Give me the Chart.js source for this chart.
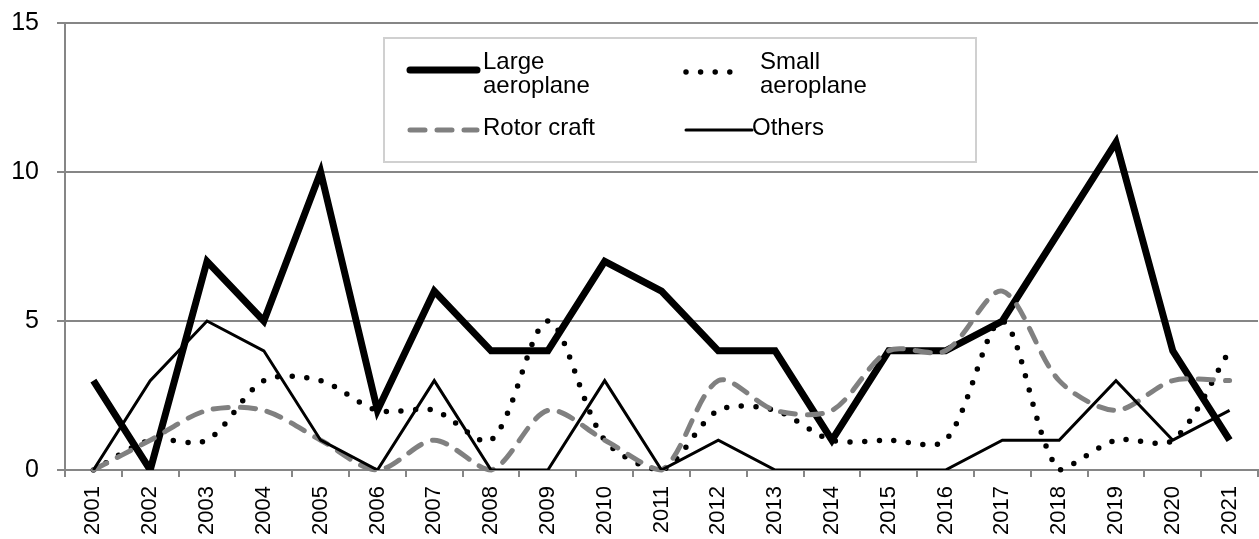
<!DOCTYPE html>
<html>
<head>
<meta charset="utf-8">
<script src="https://cdn.jsdelivr.net/npm/chart.js@4"></script>
<style>
  body { margin: 0; background: #fff; }
  #grafico { display: block; }
</style>
</head>
<body>
<canvas id="grafico" width="1259" height="539"></canvas>
<script>
// Dados do gráfico
const anos = ['2001', '2002', '2003', '2004', '2005', '2006', '2007', '2008', '2009', '2010', '2011',
              '2012', '2013', '2014', '2015', '2016', '2017', '2018', '2019', '2020', '2021'];
const largeAeroplane = [3, 0, 7, 5, 10, 2, 6, 4, 4, 7, 6, 4, 4, 1, 4, 4, 5, 8, 11, 4, 1];
const smallAeroplane = [0, 1, 1, 3, 3, 2, 2, 1, 5, 1, 0, 2, 2, 1, 1, 1, 5, 0, 1, 1, 4];
const rotorCraft     = [0, 1, 2, 2, 1, 0, 1, 0, 2, 1, 0, 3, 2, 2, 4, 4, 6, 3, 2, 3, 3];
const others         = [0, 3, 5, 4, 1, 0, 3, 0, 0, 3, 0, 1, 0, 0, 0, 0, 1, 1, 3, 1, 2];
const nomesSeries = [['Large', 'aeroplane'], ['Small', 'aeroplane'], ['Rotor craft'], ['Others']];
const ticksY = [0, 5, 10, 15];

const fonte = '"Liberation Sans", Arial, sans-serif';
const cinza = '#868686';

// Legenda desenhada à mão (rótulos em duas linhas, caixa no centro)
const legendaCaixa = {
    id: 'legendaCaixa',
    afterDatasetsDraw(chart) {
        const ctx = chart.ctx;
        ctx.save();
        ctx.fillStyle = '#fff';
        ctx.fillRect(384, 38, 592, 124);
        ctx.strokeStyle = '#d0d0d0';
        ctx.lineWidth = 2;
        ctx.strokeRect(384, 38, 592, 124);

        const pos = [
            { x1: 410, x2: 477, y: 70, tx: 483, ty: 62 },
            { x1: 686, x2: 742, y: 72, tx: 760, ty: 62 },
            { x1: 410, x2: 477, y: 130, tx: 483, ty: 128 },
            { x1: 686, x2: 752, y: 130, tx: 752, ty: 128 }
        ];
        chart.data.datasets.forEach((ds, i) => {
            const p = pos[i];
            ctx.beginPath();
            ctx.strokeStyle = ds.borderColor;
            ctx.lineWidth = ds.borderWidth;
            ctx.setLineDash(ds.borderDash || []);
            ctx.lineCap = 'round';
            ctx.moveTo(p.x1, p.y);
            ctx.lineTo(p.x2, p.y);
            ctx.stroke();
            ctx.setLineDash([]);
            ctx.fillStyle = '#000';
            ctx.font = '24px ' + fonte;
            ctx.textBaseline = 'middle';
            ctx.textAlign = 'left';
            nomesSeries[i].forEach((linha, j) => {
                ctx.fillText(linha, p.tx, p.ty + j * 24);
            });
        });
        ctx.restore();
    }
};

const ctxGrafico = document.getElementById('grafico').getContext('2d');
const grafico = new Chart(ctxGrafico, {
    type: 'line',
    data: {
        labels: anos,
        datasets: [{
            label: 'Large aeroplane',
            data: largeAeroplane,
            borderColor: '#000',
            borderWidth: 7,
            borderJoinStyle: 'miter',
            tension: 0,
            order: 4
        }, {
            label: 'Small aeroplane',
            data: smallAeroplane,
            borderColor: '#000',
            borderWidth: 5.5,
            borderDash: [0, 14.6],
            borderCapStyle: 'round',
            tension: 0.3,
            clip: false,
            order: 3
        }, {
            label: 'Rotor craft',
            data: rotorCraft,
            borderColor: '#808080',
            borderWidth: 5,
            borderDash: [15, 12],
            borderCapStyle: 'round',
            tension: 0.3,
            clip: false,
            order: 2
        }, {
            label: 'Others',
            data: others,
            borderColor: '#000',
            borderWidth: 3,
            tension: 0,
            order: 1
        }]
    },
    options: {
        responsive: false,
        animation: false,
        devicePixelRatio: 1,
        layout: { padding: { top: 23, right: 1, left: 0, bottom: 0 } },
        elements: { point: { radius: 0 }, line: { fill: false } },
        plugins: { legend: { display: false }, tooltip: { enabled: false } },
        scales: {
            x: {
                offset: true,
                grid: { drawOnChartArea: false, color: cinza, lineWidth: 2, tickLength: 7, offset: true },
                border: { color: cinza, width: 2 },
                ticks: {
                    autoSkip: false, minRotation: 90, maxRotation: 90,
                    color: '#000', padding: 9,
                    font: { family: fonte, size: 22 }
                },
                afterFit(scale) {
                    scale.height = 69;
                    scale.paddingLeft = 0;
                    scale.paddingRight = 0;
                }
            },
            y: {
                min: 0,
                max: 15,
                afterBuildTicks(scale) { scale.ticks = ticksY.map(v => ({ value: v })); },
                grid: { color: cinza, lineWidth: 2, tickLength: 8 },
                border: { color: cinza, width: 2 },
                ticks: { color: '#000', padding: 18, font: { family: fonte, size: 25 } },
                afterFit(scale) {
                    scale.width = 65;
                    scale.paddingTop = 0;
                    scale.paddingBottom = 0;
                }
            }
        }
    },
    plugins: [legendaCaixa]
});
</script>
</body>
</html>
